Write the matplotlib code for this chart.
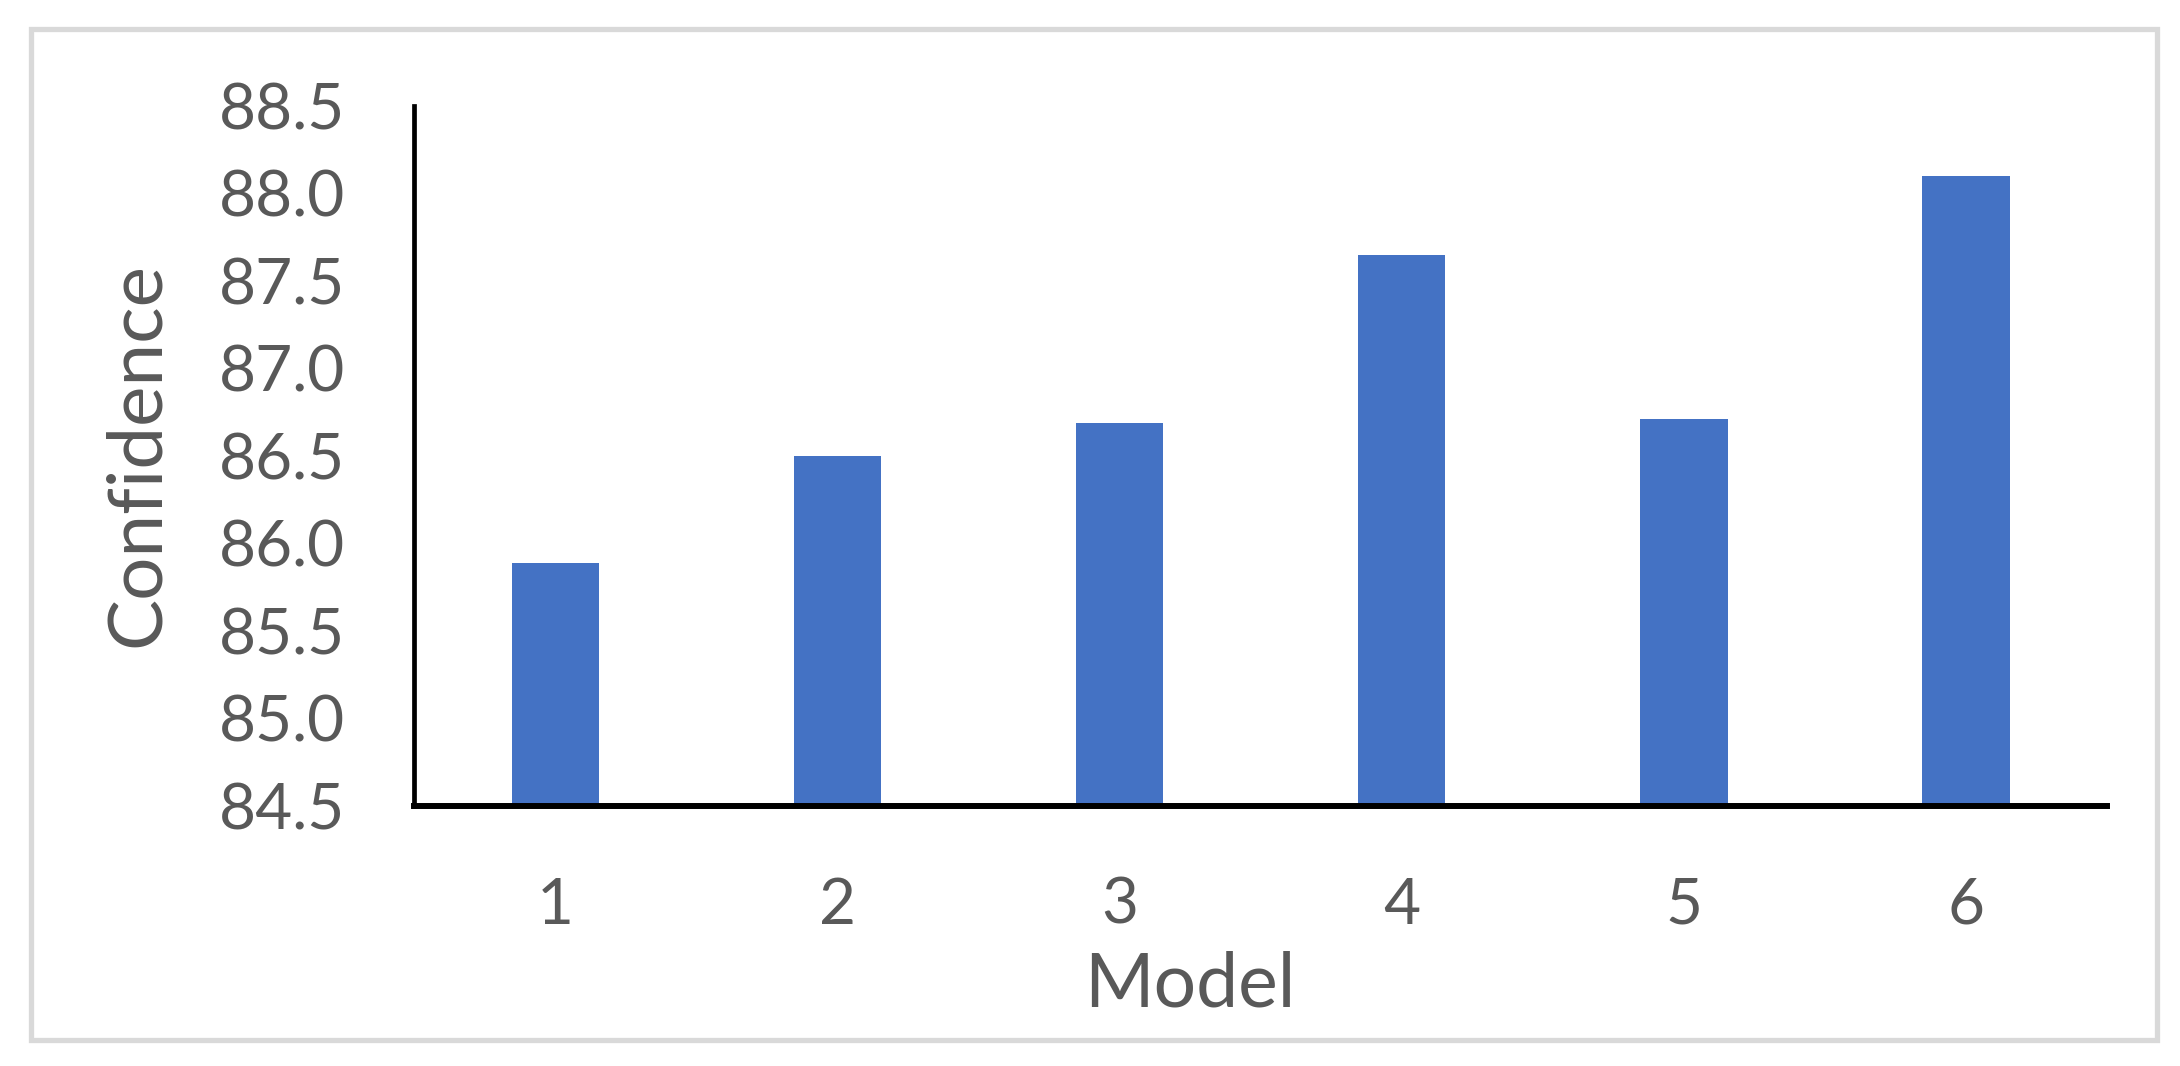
import matplotlib.pyplot as plt
from matplotlib.patches import Rectangle

models = ['1', '2', '3', '4', '5', '6']
confidence = [85.89, 86.5, 86.69, 87.65, 86.71, 88.1]
yticks = [84.5, 85.0, 85.5, 86.0, 86.5, 87.0, 87.5, 88.0, 88.5]

plt.rcParams['font.family'] = ['Lato', 'DejaVu Sans']
grey = '#595959'

fig = plt.figure(figsize=(21.8, 10.66), dpi=100)
ax = fig.add_axes([0.1901, 0.2439, 0.7764, 0.6567])

x = range(len(models))
ax.bar(x, confidence, width=0.31, color='#4472C4', linewidth=0)
ax.set_xlim(-0.5, len(models) - 0.5)
ax.set_ylim(84.5, 88.5)
ax.set_xticks(list(x))
ax.set_xticklabels(models)
ax.set_yticks(yticks)
ax.set_yticklabels(['%.1f' % v for v in yticks])
ax.tick_params(length=0, labelsize=46, labelcolor=grey)
ax.tick_params(axis='y', pad=50)
ax.tick_params(axis='x', pad=51)

for s in ['top', 'right']:
    ax.spines[s].set_visible(False)
ax.spines['left'].set_linewidth(3.4)
ax.spines['bottom'].set_linewidth(4.3)
ax.spines['left'].set_color('black')
ax.spines['bottom'].set_color('black')

fig.text(137 / 2180, 1 - 455 / 1066, 'Confidence', rotation=90, fontsize=55,
         color=grey, ha='center', va='center')
fig.text(1190 / 2180, 1 - 985 / 1066, 'Model', fontsize=54,
         color=grey, ha='center', va='center')

# outer chart border
fig.patches.append(Rectangle((31 / 2180, 1 - 1039.5 / 1066),
                             (2156.5 - 31) / 2180, (1039.5 - 29) / 1066,
                             transform=fig.transFigure, fill=False,
                             edgecolor='#d9d9d9', linewidth=3.8))

fig.savefig('out.png', dpi=100)
